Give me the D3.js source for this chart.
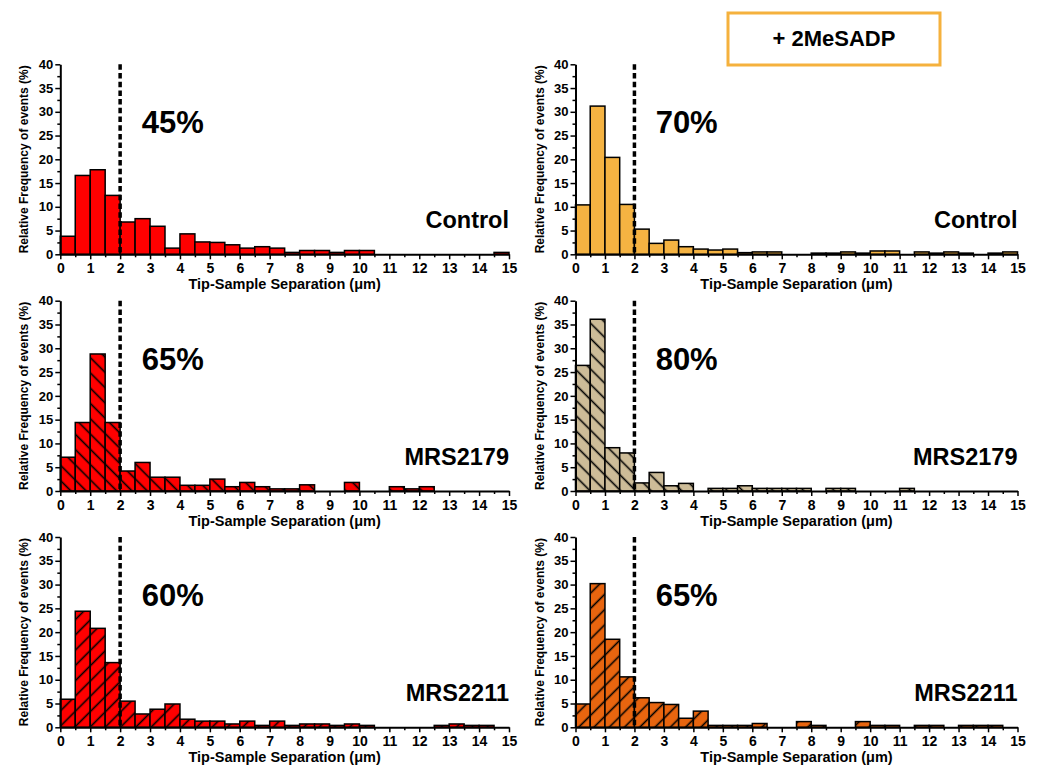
<!DOCTYPE html>
<meta charset="utf-8">
<style>
  body { margin: 0; background: #fff; }
  svg text { font-family: "Liberation Sans", Arial, sans-serif; font-weight: bold; }
</style>
<script src="https://cdnjs.cloudflare.com/ajax/libs/d3/7.8.5/d3.min.js"></script>
<body>
<svg id="chart" width="1047" height="767"></svg>
<script>
// left edges of the 0.5 um bins
var binStarts = [0, 0.5, 1, 1.5, 2, 2.5, 3, 3.5, 4, 4.5, 5, 5.5, 6, 6.5, 7, 7.5,
                 8, 8.5, 9, 9.5, 10, 10.5, 11, 11.5, 12, 12.5, 13, 13.5, 14, 14.5];
var binWidth = 0.5;

// relative frequency (%) per bin
var controlBasal = [3.8, 16.6, 17.8, 12.4, 6.8, 7.5, 5.9, 1.3, 4.3, 2.6, 2.5, 2.0, 1.3, 1.6, 1.3,
                    0.4, 0.8, 0.8, 0.4, 0.8, 0.8, 0, 0, 0, 0, 0, 0, 0, 0, 0.4];
var controlAgonist = [10.4, 31.2, 20.4, 10.5, 5.3, 2.3, 3.0, 1.6, 1.1, 0.9, 1.1, 0.35, 0.5, 0.5, 0,
                      0, 0.25, 0.25, 0.5, 0.25, 0.7, 0.7, 0, 0.5, 0.25, 0.5, 0.25, 0, 0.25, 0.5];
var mrs2179Basal = [7.1, 14.4, 28.8, 14.4, 4.2, 6.0, 2.9, 2.9, 1.2, 1.2, 2.5, 0.9, 1.8, 0.9, 0.45,
                    0.45, 1.3, 0, 0, 1.8, 0, 0, 0.9, 0.45, 0.9, 0, 0, 0, 0, 0];
var mrs2179Agonist = [26.4, 36.1, 9.1, 8.0, 1.7, 3.9, 1.1, 1.6, 0, 0.55, 0.55, 1.1, 0.55, 0.55, 0.55,
                      0.55, 0, 0.55, 0.55, 0, 0, 0, 0.55, 0, 0, 0, 0, 0, 0, 0];
var mrs2211Basal = [5.9, 24.4, 20.8, 13.6, 5.5, 2.8, 3.8, 4.9, 1.7, 1.3, 1.3, 0.7, 1.3, 0.4, 1.3,
                    0.4, 0.7, 0.7, 0.4, 0.7, 0.4, 0, 0, 0, 0, 0.4, 0.7, 0.4, 0.4, 0];
var mrs2211Agonist = [4.9, 30.2, 18.5, 10.6, 6.2, 5.2, 4.8, 1.9, 3.4, 0.4, 0.4, 0.4, 0.8, 0, 0,
                      1.2, 0.4, 0, 0, 1.2, 0.4, 0.4, 0, 0.4, 0.4, 0, 0.4, 0.4, 0.4, 0];

var percentLabels = ["45%", "70%", "65%", "80%", "60%", "65%"];
var conditionLabels = ["Control", "Control", "MRS2179", "MRS2179", "MRS2211", "MRS2211"];
var cutoff = 2;

var xTicks = [0, 1, 2, 3, 4, 5, 6, 7, 8, 9, 10, 11, 12, 13, 14, 15];
var xMinor = [0.5, 1.5, 2.5, 3.5, 4.5, 5.5, 6.5, 7.5, 8.5, 9.5, 10.5, 11.5, 12.5, 13.5, 14.5];
var yTicks = [0, 5, 10, 15, 20, 25, 30, 35, 40];
var yMinor = [2.5, 7.5, 12.5, 17.5, 22.5, 27.5, 32.5, 37.5];

// layout
var cols = [[60.3, 509], [575.5, 1017.5]];
var rows = [[254.3, 64.3], [491, 300.7], [727.3, 537]];

var panels = [
  {values: controlBasal,   col: 0, row: 0, fill: "#ff0000", hatch: null},
  {values: controlAgonist, col: 1, row: 0, fill: "#f5b342", hatch: null},
  {values: mrs2179Basal,   col: 0, row: 1, fill: "#ff0000", hatch: "back"},
  {values: mrs2179Agonist, col: 1, row: 1, fill: "#cdbc98", hatch: "back"},
  {values: mrs2211Basal,   col: 0, row: 2, fill: "#ff0000", hatch: "fwd"},
  {values: mrs2211Agonist, col: 1, row: 2, fill: "#e8650f", hatch: "fwd"}
];

var svg = d3.select("#chart");

var defs = svg.append("defs");
function hatch(id, angle) {
  var p = defs.append("pattern")
    .attr("id", id)
    .attr("patternUnits", "userSpaceOnUse")
    .attr("width", 10.8).attr("height", 10)
    .attr("patternTransform", "rotate(" + angle + ")");
  p.append("line")
    .attr("x1", 5.4).attr("x2", 5.4).attr("y1", -1).attr("y2", 11)
    .attr("stroke", "#000").attr("stroke-width", 1.6);
}
hatch("hatch-back", -45);
hatch("hatch-fwd", 45);

panels.forEach(function(p, i) {
  var x = d3.scaleLinear().domain([0, 15]).range(cols[p.col]);
  var y = d3.scaleLinear().domain([0, 40]).range(rows[p.row]);
  var g = svg.append("g");

  var bins = binStarts.map(function(s, k) { return {x0: s, x1: s + binWidth, v: p.values[k]}; })
    .filter(function(d) { return d.v > 0; });

  var bars = g.selectAll(".bar").data(bins).enter().append("g");
  bars.append("rect")
    .attr("x", function(d) { return x(d.x0); })
    .attr("width", function(d) { return x(d.x1) - x(d.x0); })
    .attr("y", function(d) { return y(d.v); })
    .attr("height", function(d) { return y(0) - y(d.v); })
    .attr("fill", p.fill);
  if (p.hatch) {
    bars.append("rect")
      .attr("x", function(d) { return x(d.x0); })
      .attr("width", function(d) { return x(d.x1) - x(d.x0); })
      .attr("y", function(d) { return y(d.v); })
      .attr("height", function(d) { return y(0) - y(d.v); })
      .attr("fill", "url(#hatch-" + p.hatch + ")");
  }
  bars.append("rect")
    .attr("x", function(d) { return x(d.x0); })
    .attr("width", function(d) { return x(d.x1) - x(d.x0); })
    .attr("y", function(d) { return y(d.v); })
    .attr("height", function(d) { return y(0) - y(d.v); })
    .attr("fill", "none")
    .attr("stroke", "#000")
    .attr("stroke-width", 1.5);

  // cutoff line
  g.append("line")
    .attr("x1", x(cutoff)).attr("x2", x(cutoff))
    .attr("y1", y(40)).attr("y2", y(0))
    .attr("stroke", "#000")
    .attr("stroke-width", 3.5)
    .attr("stroke-dasharray", "5.5,3.2");

  // axes
  var xa = g.append("g").attr("transform", "translate(0," + y(0) + ")")
    .call(d3.axisBottom(x).tickValues(xTicks).tickSize(5).tickSizeOuter(0).tickPadding(4).tickFormat(d3.format("d")));
  g.append("g").attr("transform", "translate(0," + y(0) + ")")
    .call(d3.axisBottom(x).tickValues(xMinor).tickSize(3).tickSizeOuter(0).tickFormat(""))
    .select(".domain").remove();
  var ya = g.append("g").attr("transform", "translate(" + x(0) + ",0)")
    .call(d3.axisLeft(y).tickValues(yTicks).tickSize(5).tickSizeOuter(0).tickPadding(2).tickFormat(d3.format("d")));
  g.append("g").attr("transform", "translate(" + x(0) + ",0)")
    .call(d3.axisLeft(y).tickValues(yMinor).tickSize(3).tickSizeOuter(0).tickFormat(""))
    .select(".domain").remove();

  g.selectAll(".domain").attr("stroke", "#000").attr("stroke-width", 2);
  g.selectAll(".tick line").attr("stroke", "#000").attr("stroke-width", 1.5);
  xa.selectAll("text").attr("font-size", 14).attr("fill", "#000")
    .attr("font-family", "Liberation Sans, Arial, sans-serif").attr("font-weight", "bold");
  ya.selectAll("text").attr("font-size", 13).attr("fill", "#000")
    .attr("font-family", "Liberation Sans, Arial, sans-serif").attr("font-weight", "bold");

  // axis titles
  g.append("text")
    .attr("x", (x(0) + x(15)) / 2).attr("y", y(0) + 35)
    .attr("text-anchor", "middle").attr("font-size", 14.5)
    .text("Tip-Sample Separation (\u03bcm)");
  g.append("text")
    .attr("transform", "translate(" + (x(0) - 32) + "," + (y(0) + y(40)) / 2 + ") rotate(-90)")
    .attr("text-anchor", "middle").attr("font-size", 12)
    .text("Relative Frequency of events (%)");

  // annotations
  g.append("text")
    .attr("x", x(2.72)).attr("y", y(25.5))
    .attr("font-size", 31)
    .text(percentLabels[i]);
  g.append("text")
    .attr("x", x(15)).attr("y", y(5.5))
    .attr("text-anchor", "end").attr("font-size", 23.5)
    .text(conditionLabels[i]);
});

// treatment box
svg.append("rect")
  .attr("x", 728).attr("y", 13).attr("width", 212).attr("height", 52)
  .attr("fill", "none").attr("stroke", "#f5b13d").attr("stroke-width", 3);
svg.append("text")
  .attr("x", 834).attr("y", 46)
  .attr("text-anchor", "middle").attr("font-size", 22)
  .text("+ 2MeSADP");
</script>
</body>
